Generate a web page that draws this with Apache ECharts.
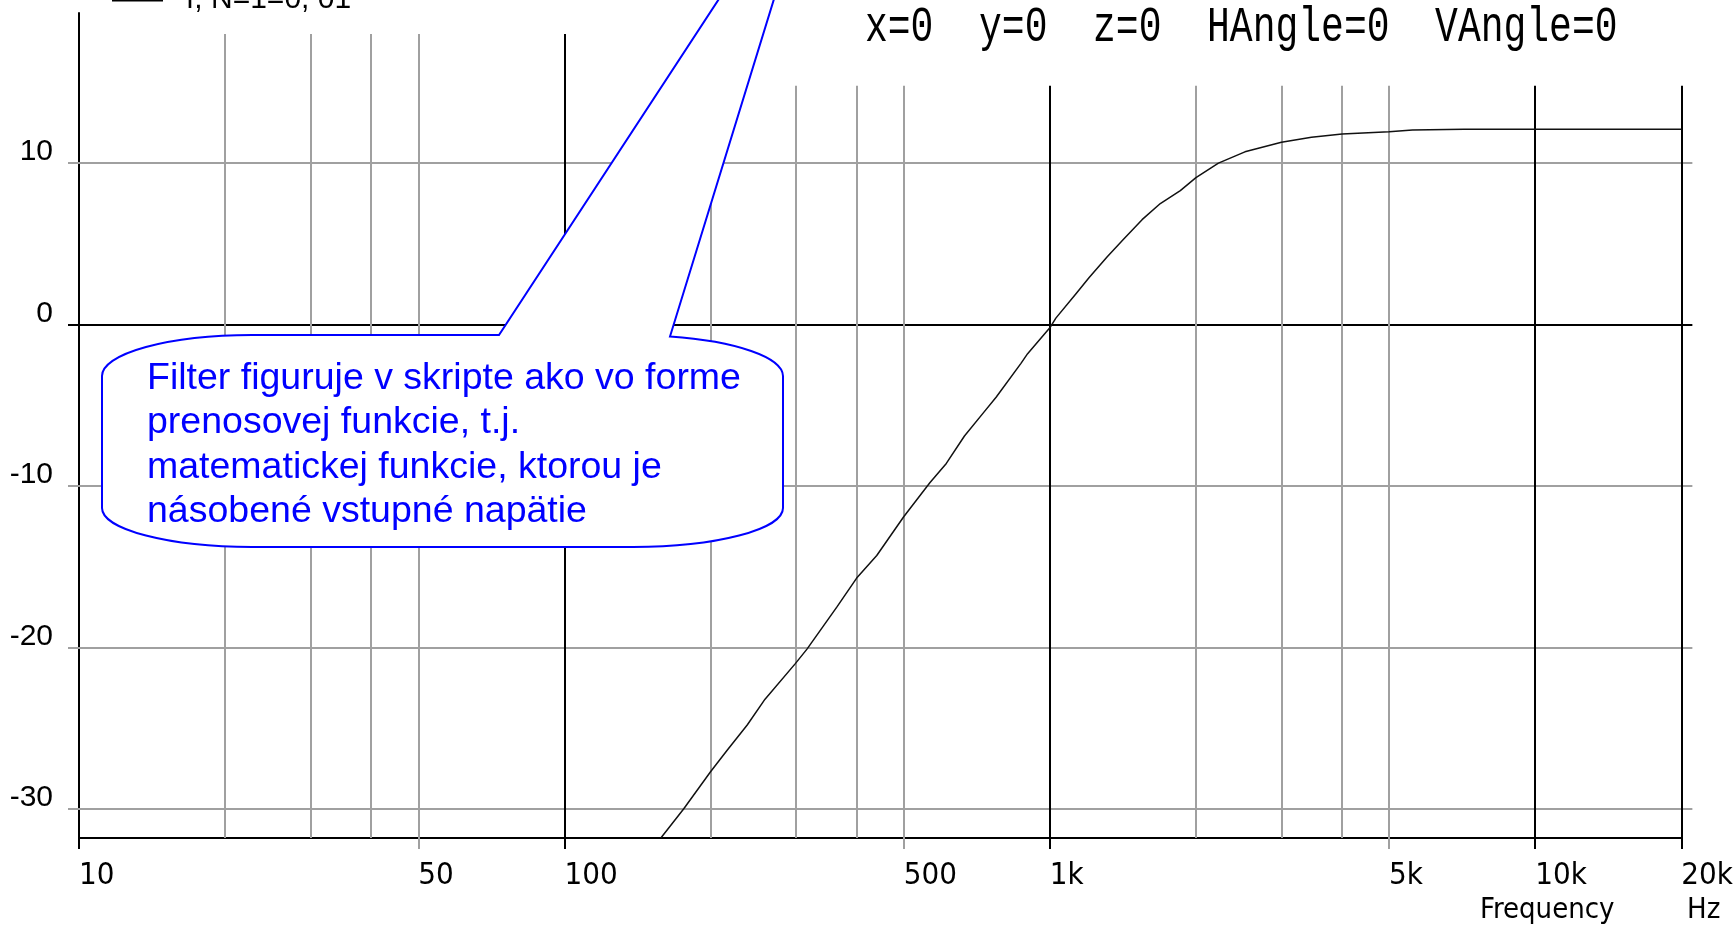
<!DOCTYPE html>
<html>
<head>
<meta charset="utf-8">
<script src="https://cdn.jsdelivr.net/npm/echarts@6/dist/echarts.min.js"></script>
<style>
  html, body { margin: 0; padding: 0; background: #fff; }
  #main { width: 1736px; height: 925px; }
</style>
</head>
<body>
<div id="main"></div>
<script>
// frequency response (Hz, dB)
const freq = [158, 176, 200, 216, 238, 259, 299, 316, 364, 400, 440, 500, 566, 612, 667, 728, 775, 872, 900,
  1000, 1029, 1131, 1204, 1313, 1420, 1549, 1689, 1857, 2000, 2225, 2523, 3000, 3459, 4000, 5000, 5585, 7130, 10000, 20000];
const gain = [-31.8, -30.0, -27.7, -26.4, -24.8, -23.2, -21.0, -20.1, -17.5, -15.7, -14.3, -11.9, -9.8, -8.6, -6.9, -5.5, -4.5, -2.4, -1.8,
  -0.2, 0.4, 1.9, 2.9, 4.2, 5.3, 6.5, 7.5, 8.3, 9.1, 10.0, 10.7, 11.3, 11.6, 11.8, 11.95, 12.05, 12.1, 12.1, 12.1];

const xLabelValues = [10, 50, 100, 500, 1000, 5000, 10000, 20000];
const xTickGray = [50, 500, 5000];
const xTickBlack = [10, 100, 1000, 10000, 20000];
const yLabelValues = [-30, -20, -10, 0, 10];
const yGridGray = [-30, -20, -10, 10];
const yGridBlack = [0];
const vGridGray = [20, 30, 40, 50, 200, 300, 400, 500, 2000, 3000, 4000, 5000];
const vGridBlack = [100, 1000, 10000, 20000];

const seriesName = 'f, N=1=0, 01';
const infoText = 'x=0  y=0  z=0  HAngle=0  VAngle=0';
const noteLines = [
  'Filter figuruje v skripte ako vo forme',
  'prenosovej funkcie, t.j.',
  'matematickej funkcie, ktorou je',
  'násobené vstupné napätie'
];

const Y_MIN = -31.8;
const Y_MAX = 19.3;
const GRAY = '#a0a0a0';
const NARROW = '"Liberation Sans Narrow", "DejaVu Sans Condensed", "Arial Narrow", sans-serif';
const SANS = '"Liberation Sans", Arial, sans-serif';

// callout bubble outline (annotation shape, pixel space)
const calloutPath = 'M102,376 A150,41 0 0 1 252,335 L499,335 L823,-160 L670,336.5 A150,41 0 0 1 783,376 ' +
  'L783,508 A150,39 0 0 1 633,547 L252,547 A150,39 0 0 1 102,508 Z';
echarts.graphic.registerShape('callout', echarts.graphic.extendPath(calloutPath, {}));

// vertical grid lines, the ones under the info text start lower
const vTop = (f) => (f < 250 ? 18 : 14.8);
const vLines = [];
vGridGray.forEach((f) => {
  vLines.push([{ coord: [f, Y_MIN], lineStyle: { color: GRAY, width: 2, type: 'solid' } }, { coord: [f, vTop(f)] }]);
});
vGridBlack.forEach((f) => {
  vLines.push([{ coord: [f, Y_MIN], lineStyle: { color: '#000', width: 2, type: 'solid' } }, { coord: [f, vTop(f)] }]);
});
const hLines = yGridGray.map((v) => ({ yAxis: v, lineStyle: { color: GRAY, width: 2, type: 'solid' } }))
  .concat(yGridBlack.map((v) => ({ yAxis: v, lineStyle: { color: '#000', width: 2, type: 'solid' } })));

const yBase = {
  type: 'value',
  min: Y_MIN,
  max: Y_MAX,
  splitLine: { show: false },
  axisLine: { show: false, onZero: false },
  axisLabel: { show: false },
};

const chart = echarts.init(document.getElementById('main'));
chart.setOption({
  animation: false,
  backgroundColor: '#fff',
  grid: { left: 79, right: 48, top: 13, bottom: 87 },
  legend: {
    left: 112,
    top: -15,
    padding: 0,
    icon: 'rect',
    itemWidth: 51,
    itemHeight: 3,
    data: [seriesName],
    textStyle: { fontFamily: SANS, fontSize: 30, color: '#000', padding: [0, 0, 0, 18] },
  },
  xAxis: [
    {
      type: 'log',
      logBase: 10,
      position: 'bottom',
      min: 10,
      max: 20000,
      axisLine: { show: true, onZero: false, lineStyle: { color: '#000', width: 2 } },
      axisTick: { show: true, inside: false, length: 11, customValues: xTickGray, lineStyle: { color: GRAY, width: 2 } },
      axisLabel: {
        customValues: xLabelValues,
        align: 'left',
        margin: 22,
        fontFamily: NARROW,
        fontSize: 31,
        color: '#000',
        formatter: (v) => (v >= 1000 ? v / 1000 + 'k' : String(v)),
      },
      splitLine: { show: false },
      minorTick: { show: false },
    },
    {
      type: 'log',
      logBase: 10,
      position: 'bottom',
      min: 10,
      max: 20000,
      axisLine: { show: false, onZero: false },
      axisTick: { show: true, inside: false, length: 11, customValues: xTickBlack, lineStyle: { color: '#000', width: 2 } },
      axisLabel: { show: false },
      splitLine: { show: false },
    },
  ],
  yAxis: [
    {
      type: 'value',
      position: 'left',
      min: Y_MIN,
      max: Y_MAX,
      axisLine: { show: true, onZero: false, lineStyle: { color: '#000', width: 2 } },
      axisTick: { show: true, inside: false, length: 11, customValues: yGridGray, lineStyle: { color: GRAY, width: 2 } },
      axisLabel: {
        customValues: yLabelValues,
        margin: 26,
        fontFamily: SANS,
        fontSize: 30,
        color: '#000',
        verticalAlign: 'bottom',
        lineHeight: 22,
      },
      splitLine: { show: false },
    },
    Object.assign({}, yBase, {
      position: 'left',
      axisTick: { show: true, inside: false, length: 11, customValues: yGridBlack, lineStyle: { color: '#000', width: 2 } },
    }),
    Object.assign({}, yBase, {
      position: 'right',
      axisTick: { show: true, inside: false, length: 11, customValues: yGridGray, lineStyle: { color: GRAY, width: 2 } },
    }),
    Object.assign({}, yBase, {
      position: 'right',
      axisTick: { show: true, inside: false, length: 11, customValues: yGridBlack, lineStyle: { color: '#000', width: 2 } },
    }),
  ],
  series: [
    {
      name: seriesName,
      type: 'line',
      data: freq.map((f, i) => [f, gain[i]]),
      showSymbol: false,
      symbol: 'none',
      color: '#000',
      lineStyle: { color: '#111', width: 1.5 },
      z: 3,
      markLine: {
        silent: true,
        symbol: 'none',
        label: { show: false },
        lineStyle: { type: 'solid', width: 2 },
        data: hLines.concat(vLines),
        z: 1,
      },
    },
  ],
  graphic: [
    {
      type: 'text',
      x: 865,
      y: 3,
      scaleY: 1.3,
      style: { text: infoText, fontFamily: '"Liberation Mono", "DejaVu Sans Mono", monospace', fontSize: 38, fill: '#000' },
      z: 50,
    },
    {
      type: 'text',
      x: 1480,
      y: 896,
      style: { text: 'Frequency', fontFamily: NARROW, fontSize: 29, fill: '#000' },
    },
    {
      type: 'text',
      x: 1687,
      y: 896,
      style: { text: 'Hz', fontFamily: NARROW, fontSize: 29, fill: '#000' },
    },
    {
      type: 'callout',
      style: { fill: '#fff', stroke: '#0000ff', lineWidth: 2 },
      z: 100,
    },
    {
      type: 'text',
      x: 147,
      y: 356,
      style: {
        text: noteLines.join('\n'),
        fontFamily: SANS,
        fontSize: 37.5,
        lineHeight: 44.5,
        fill: '#0000ff',
        verticalAlign: 'top',
      },
      z: 101,
    },
  ],
});
</script>
</body>
</html>
